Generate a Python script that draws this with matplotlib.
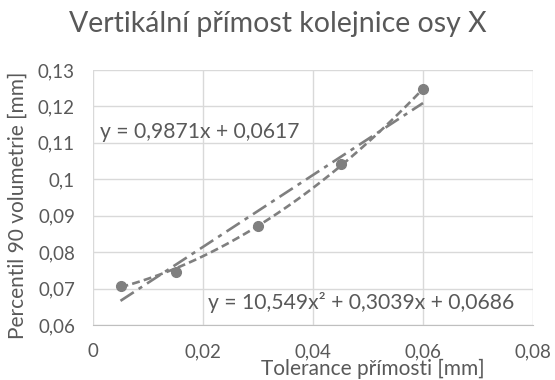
import numpy as np
import matplotlib.pyplot as plt
from matplotlib.ticker import FuncFormatter, MultipleLocator

plt.rcParams['font.family'] = ['Lato', 'DejaVu Sans']

# measured points
tolerance = [0.005, 0.015, 0.03, 0.045, 0.06]
percentile90 = [0.0707, 0.0746, 0.0873, 0.1043, 0.1248]

# trend line coefficients
lin_coef = [0.9871, 0.0617]
quad_coef = [10.549, 0.3039, 0.0686]

TEXT = '#595959'
GRID = '#d9d9d9'
MARK = '#7f7f7f'


def comma(v, pos):
    return ('%g' % round(v, 4)).replace('.', ',')


fig = plt.figure(figsize=(5.55, 3.8), dpi=100)
ax = fig.add_axes([93 / 555, 1 - 325 / 380, 440 / 555, 255 / 380])

xs = np.linspace(tolerance[0], tolerance[-1], 100)
ax.plot(xs, np.polyval(lin_coef, xs), color=MARK, lw=1.9, dashes=[6, 2.2, 1.6, 2.2])
ax.plot(xs, np.polyval(quad_coef, xs), color=MARK, lw=1.9, dashes=[3, 1.6])
ax.plot(tolerance, percentile90, 'o', color=MARK, ms=7, zorder=3)

ax.set_xlim(0, 0.08)
ax.set_ylim(0.06, 0.13)
ax.xaxis.set_major_locator(MultipleLocator(0.02))
ax.yaxis.set_major_locator(MultipleLocator(0.01))
ax.xaxis.set_major_formatter(FuncFormatter(comma))
ax.yaxis.set_major_formatter(FuncFormatter(comma))
ax.grid(True, color=GRID, lw=1)
ax.set_axisbelow(True)
for s in ['top', 'right', 'left']:
    ax.spines[s].set_visible(False)
ax.spines['bottom'].set_color('#bfbfbf')
ax.tick_params(length=0, labelsize=13.5, labelcolor=TEXT)
ax.tick_params(axis='x', pad=13)
ax.tick_params(axis='y', pad=13)

ax.text(0.00127, 0.113, 'y = 0,9871x + 0,0617', fontsize=15.2, color=TEXT, va='center')
ax.text(0.0209, 0.0663, 'y = 10,549x² + 0,3039x + 0,0686', fontsize=15.2, color=TEXT,
        va='center')

fig.text(0.5, 1 - 24 / 380, 'Vertikální přímost kolejnice osy X', fontsize=20.5,
         color=TEXT, ha='center', va='center')
ax.set_xlabel('Tolerance přímosti [mm]', fontsize=15, color=TEXT, va='center')
ax.set_ylabel('Percentil 90 volumetrie [mm]', fontsize=15, color=TEXT)
ax.xaxis.set_label_coords(0.636, -0.1725)
ax.yaxis.set_label_coords(-0.148, 0.47)

fig.savefig('out.png', dpi=100)
